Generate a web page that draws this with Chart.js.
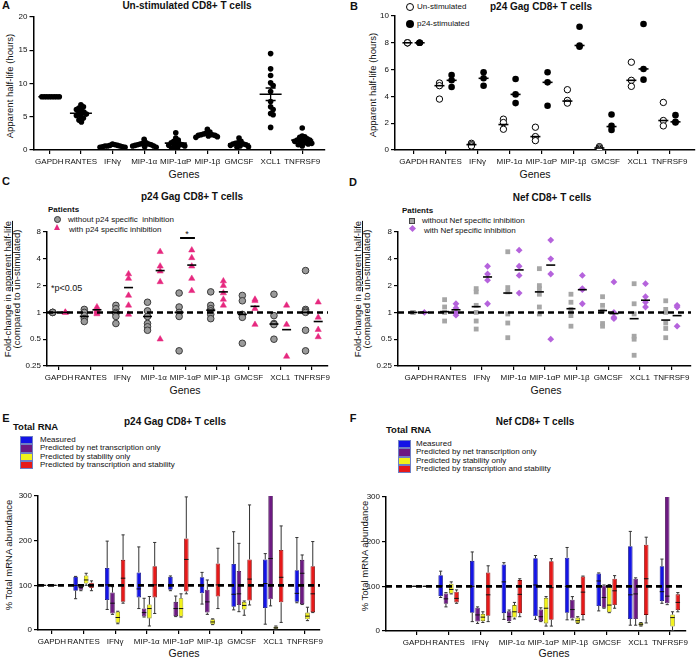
<!DOCTYPE html>
<html>
<head>
<meta charset="utf-8">
<title>mRNA half-life in CD8+ T cells</title>
<script src="https://cdn.jsdelivr.net/npm/chart.js@4.4.1/dist/chart.umd.min.js"></script>
<style>
html,body{margin:0;padding:0;background:#fff;overflow:hidden}
#fig{position:relative;width:696px;height:659px;font-family:"Liberation Sans",Arial,sans-serif;color:#111}
#fig canvas{position:absolute}
.t{position:absolute;white-space:nowrap;line-height:1;font-size:8px}
.c{transform:translate(-50%,-50%)}
.l{transform:translate(0,-50%)}
.v{transform:translate(-50%,-50%) rotate(-90deg);text-align:center}
.p{font-weight:bold;font-size:11px}
.h{font-weight:bold;font-size:10px}
.g{font-size:10.5px}
.sw{position:absolute;width:13px;height:8.4px;box-sizing:border-box;border:1px solid #6f7fc4}
.sym{position:absolute;box-sizing:border-box}
</style>
</head>
<body>
<div id="fig">
  <!-- panel letters -->
  <div class="t c p" style="left:6px;top:5px">A</div>
  <div class="t c p" style="left:354px;top:6px">B</div>
  <div class="t c p" style="left:6px;top:181px">C</div>
  <div class="t c p" style="left:353px;top:182px">D</div>
  <div class="t c p" style="left:6px;top:418px">E</div>
  <div class="t c p" style="left:353px;top:418px">F</div>

  <!-- titles -->
  <div class="t c h" style="left:187px;top:6px">Un-stimulated CD8+ T cells</div>
  <div class="t c h" style="left:541px;top:6.5px">p24 Gag CD8+ T cells</div>
  <div class="t c h" style="left:192px;top:197px">p24 Gag CD8+ T cells</div>
  <div class="t c h" style="left:552px;top:198px">Nef CD8+ T cells</div>
  <div class="t c h" style="left:175px;top:422px">p24 Gag CD8+ T cells</div>
  <div class="t c h" style="left:535px;top:422px">Nef CD8+ T cells</div>

  <!-- axis titles -->
  <div class="t v" style="left:10px;top:86px;font-size:9.5px">Apparent half-life (hours)</div>
  <div class="t v" style="left:373px;top:85px;font-size:9.5px">Apparent half-life (hours)</div>
  <div class="t v" style="left:12px;top:289px;font-size:9.5px;line-height:9px">Fold-change in <u>apparent half-life</u><br>(compared to un-stimulated)</div>
  <div class="t v" style="left:362px;top:289px;font-size:9.5px;line-height:9px">Fold-change in <u>apparent half-life</u><br>(compared to un-stimulated)</div>
  <div class="t v" style="left:9px;top:555px;font-size:9.5px">% Total mRNA abundance</div>
  <div class="t v" style="left:365px;top:556px;font-size:9.5px">% Total mRNA abundance</div>
  <div class="t c g" style="left:184px;top:174px">Genes</div>
  <div class="t c g" style="left:535px;top:174px">Genes</div>
  <div class="t c g" style="left:185px;top:390px">Genes</div>
  <div class="t c g" style="left:546px;top:390px">Genes</div>
  <div class="t c g" style="left:184px;top:653px">Genes</div>
  <div class="t c g" style="left:554px;top:653px">Genes</div>

  <!-- legend B -->
  <div class="sym" style="left:405.5px;top:3px;width:8px;height:8px;border:1px solid #000;border-radius:50%;background:#fff"></div>
  <div class="sym" style="left:405.5px;top:19.5px;width:8px;height:8px;border-radius:50%;background:#000"></div>
  <div class="t l" style="left:417px;top:7px">Un-stimulated</div>
  <div class="t l" style="left:417px;top:23.5px">p24-stimulated</div>

  <!-- legend C -->
  <div class="t l" style="left:48px;top:210px;font-weight:bold">Patients</div>
  <div class="sym" style="left:54px;top:216px;width:7px;height:7px;border:1px solid #333;border-radius:50%;background:#9a9a9a"></div>
  <div class="sym" style="left:54px;top:224px;width:0;height:0;border-left:3.5px solid transparent;border-right:3.5px solid transparent;border-bottom:6px solid #e6287f"></div>
  <div class="t l" style="left:68px;top:220px">without p24 specific&nbsp; inhibition</div>
  <div class="t l" style="left:69px;top:230px">with p24 specific inhibition</div>
  <div class="t c" style="left:187px;top:234px;font-size:9px">*</div>
  <div class="t l" style="left:51px;top:288px;font-size:9px">*p&lt;0.05</div>

  <!-- legend D -->
  <div class="t l" style="left:402px;top:211px;font-weight:bold">Patients</div>
  <div class="sym" style="left:409px;top:218px;width:6px;height:6px;border:1px solid #444;background:#a6a6a6"></div>
  <div class="sym" style="left:409.5px;top:225.5px;width:5px;height:5px;background:#b563dc;transform:rotate(45deg)"></div>
  <div class="t l" style="left:422px;top:221px">without Nef specific inhibition</div>
  <div class="t l" style="left:424px;top:231px">with Nef specific inhibition</div>

  <!-- legend E -->
  <div class="t l" style="left:13px;top:427px;font-weight:bold;font-size:9.5px">Total RNA</div>
  <div class="sw" style="left:20px;top:436px;background:#1414e6"></div>
  <div class="sw" style="left:20px;top:444.3px;background:#6d1a82"></div>
  <div class="sw" style="left:20px;top:452.6px;background:#f2f21a"></div>
  <div class="sw" style="left:20px;top:460.9px;background:#e61919"></div>
  <div class="t l" style="left:40px;top:440px">Measured</div>
  <div class="t l" style="left:40px;top:448.3px">Predicted by net transcription only</div>
  <div class="t l" style="left:40px;top:456.7px">Predicted by stability only</div>
  <div class="t l" style="left:40px;top:465px">Predicted by transcription and stability</div>

  <!-- legend F -->
  <div class="t l" style="left:386px;top:430px;font-weight:bold;font-size:9.5px">Total RNA</div>
  <div class="sw" style="left:398px;top:440px;background:#1414e6"></div>
  <div class="sw" style="left:398px;top:448.3px;background:#6d1a82"></div>
  <div class="sw" style="left:398px;top:456.6px;background:#f2f21a"></div>
  <div class="sw" style="left:398px;top:464.9px;background:#e61919"></div>
  <div class="t l" style="left:416px;top:444px">Measured</div>
  <div class="t l" style="left:416px;top:452.3px">Predicted by net transcription only</div>
  <div class="t l" style="left:416px;top:460.7px">Predicted by stability only</div>
  <div class="t l" style="left:416px;top:469px">Predicted by transcription and stability</div>
</div>

<script>
const FONT = '"Liberation Sans", Arial, sans-serif';
const genes = ['GAPDH', 'RANTES', 'IFNγ', 'MIP-1α', 'MIP-1αP', 'MIP-1β', 'GMCSF', 'XCL1', 'TNFRSF9'];
const logTicks = [0.25, 0.5, 1, 2, 4, 8];

// A - half-life in un-stimulated cells (hours), one list per gene
const halfLifeUnstim = [
  [8, 8, 8, 8, 8, 8, 8, 8],
  [6.8, 6.5, 6.3, 6.1, 5.9, 5.7, 5.5, 5.4, 5.2, 5.0, 4.8, 4.5, 4.2],
  [0.9, 0.8, 0.7, 0.7, 0.6, 0.6, 0.6, 0.5, 0.5, 0.4, 0.4],
  [1.6, 1.1, 1.0, 0.9, 0.9, 0.8, 0.8, 0.7, 0.6, 0.6, 0.5, 0.4],
  [2.6, 1.8, 1.5, 1.3, 1.1, 1.0, 0.9, 0.8, 0.7, 0.6, 0.5, 0.4, 0.3],
  [3.1, 2.7, 2.5, 2.4, 2.3, 2.3, 2.2, 2.2, 2.1, 2.0, 1.9],
  [1.8, 1.3, 1.1, 1.0, 0.9, 0.9, 0.8, 0.7, 0.6, 0.5, 0.4],
  [14.5, 12.2, 11.2, 10.1, 9.7, 8.8, 7.3, 6.5, 6.1, 5.5, 5.3, 3.4],
  [3.3, 2.1, 2.0, 1.9, 1.7, 1.5, 1.5, 1.4, 1.3, 1.2, 1.1, 1.0, 0.9, 0.8, 0.6]
];

// B - p24 Gag cells, un-stimulated vs p24-stimulated (hours)
const bUnstim = [[8, 8, 8], [5.0, 4.8, 3.8], [0.5, 0.4, 0.3], [2.3, 2.05, 1.55], [1.7, 1.0, 0.7],
  [4.5, 3.7, 3.5], [0.25, 0.15, 0.05], [6.55, 5.2, 4.75], [3.55, 2.2, 1.8]];
const bStim = [[8, 8, 8], [5.6, 5.2, 4.7], [5.8, 5.35, 4.8], [5.3, 4.15, 3.5], [5.8, 5.05, 3.3],
  [9.2, 7.8, 7.7], [2.65, 1.8, 1.5], [9.4, 6.05, 5.25], [2.6, 2.1, 2.05]];
const bUnstimMed = [8, 4.8, 0.4, 1.9, 1.0, 3.65, 0.15, 5.2, 2.2];
const bStimMed = [8, 5.2, 5.35, 4.15, 5.05, 7.8, 1.75, 6.05, 2.1];

// C - fold change, p24 Gag cells
const cWithout = [[1, 1, 1], [1.08, 1.0, 0.92, 0.85, 0.79], [1.2, 1.1, 1.0, 0.97, 0.9, 0.75],
  [1.3, 1.04, 0.9, 0.75, 0.69, 0.63], [1.65, 1.15, 1.0, 0.9, 0.37], [1.7, 1.2, 1.1, 1.04, 0.95, 0.85],
  [1.55, 1.35, 0.95, 0.88, 0.45], [1.6, 0.92, 0.75, 0.73, 0.5], [2.95, 1.08, 1.04, 1.0, 0.63, 0.37]];
const cWith = [[1, 1], [1.15, 1.08, 1.04, 1.0, 0.96], [2.7, 2.4, 1.55, 1.2, 0.95], [4.8, 3.3, 2.9, 2.2, 0.5],
  [5.0, 4.1, 3.3, 2.4, 1.75], [2.25, 2.0, 1.65, 1.4, 1.2], [1.4, 1.35, 1.1, 0.73], [1.2, 0.73, 0.32],
  [1.3, 0.88, 0.64, 0.53]];
const cWithoutMed = [1, 0.9, 1.0, 0.9, 1.0, 1.06, 0.95, 0.74, 1.0];
const cWithMed = [1, 1.07, 1.9, 2.95, 3.4, 1.7, 1.17, 0.64, 0.79];

// D - fold change, Nef cells
const dWithout = [[1, 1, 1], [1.39, 1.15, 1.0, 0.8], [1.85, 1.7, 1.2, 1.0, 0.8, 0.65],
  [4.8, 1.9, 1.7, 0.96, 0.76, 0.52], [3.1, 2.0, 1.85, 1.6, 1.15, 0.96], [1.6, 1.3, 1.08, 0.92, 0.7],
  [1.5, 1.2, 1.04, 0.75, 0.7], [2.1, 1.25, 0.96, 0.54, 0.5, 0.33], [1.35, 1.08, 1.0, 0.76, 0.66, 0.52]];
const dWith = [[1], [1.25, 1.12, 1.0, 0.93], [3.3, 2.7, 2.3, 1.25], [5.0, 3.3, 2.6, 1.65], [6.5, 4.0, 2.7, 0.5],
  [2.6, 1.85, 1.8, 1.25], [2.2, 1.0, 0.88, 0.85], [2.1, 1.5, 1.3, 1.15], [1.2, 1.15, 0.7]];
const dWithoutMed = [1, 1.02, 1.16, 1.65, 1.7, 1.1, 1.05, 0.85, 0.82];
const dWithMed = [1, 1.07, 2.5, 3.0, 3.4, 1.8, 0.97, 1.37, 0.92];

// E - % total mRNA, p24 Gag cells: [min, q1, median, q3, max]
const eMeasured = [[100, 100, 100, 100, 100], [70, 88, 100, 119, 120], [46, 67, 101, 139, 199], [48, 73, 92, 129, 186],
  [88, 90, 101, 119, 121], [58, 82, 101, 118, 129], [45, 52, 80, 148, 220], [13, 49, 104, 158, 171], [61, 63, 82, 134, 207]];
const ePredTx = [[100, 100, 100, 100, 100], [88, 90, 95, 100, 101], [35, 37, 60, 84, 97], [29, 30, 39, 48, 71],
  [30, 31, 48, 63, 76], [35, 39, 63, 90, 112], [41, 56, 81, 132, 194], [54, 69, 160, 330, 330], [57, 58, 127, 157, 168]];
const ePredStab = [[100, 100, 100, 100, 100], [100, 104, 112, 122, 127], [14, 16, 28, 41, 42], [9, 26, 48, 57, 75],
  [29, 30, 48, 71, 81], [12, 13, 18, 24, 25], [33, 46, 55, 63, 65], [2, 3, 5, 8, 9], [21, 24, 31, 39, 51]];
const ePredBoth = [[100, 100, 100, 100, 100], [88, 94, 100, 106, 110], [60, 63, 116, 157, 213], [37, 73, 101, 143, 196],
  [81, 86, 158, 205, 298], [48, 75, 101, 149, 183], [56, 66, 114, 158, 280], [17, 62, 118, 179, 233], [39, 40, 81, 143, 198]];

// F - % total mRNA, Nef cells
const fMeasured = [[100, 100, 100, 100, 100], [75, 78, 101, 125, 134], [21, 41, 100, 157, 177], [26, 40, 110, 149, 153],
  [26, 33, 103, 163, 169], [25, 41, 100, 164, 187], [45, 56, 112, 129, 130], [13, 27, 81, 190, 223], [62, 67, 88, 145, 161]];
const fPredTx = [[100, 100, 100, 100, 100], [54, 61, 72, 84, 86], [17, 21, 36, 52, 54], [19, 22, 32, 44, 47],
  [21, 22, 32, 48, 52], [25, 28, 48, 70, 77], [51, 52, 75, 102, 103], [13, 27, 83, 117, 119], [59, 62, 78, 330, 330]];
const fPredStab = [[100, 100, 100, 100, 100], [83, 84, 93, 106, 110], [19, 22, 31, 38, 43], [27, 30, 43, 58, 64],
  [11, 17, 51, 74, 77], [17, 18, 23, 30, 32], [41, 42, 58, 102, 104], [11, 12, 15, 18, 19], [1, 10, 30, 37, 43]];
const fPredBoth = [[100, 100, 100, 100, 100], [62, 64, 73, 88, 92], [21, 34, 81, 131, 146], [32, 40, 82, 114, 117],
  [11, 25, 97, 156, 162], [25, 36, 87, 122, 123], [51, 58, 90, 117, 124], [18, 36, 117, 193, 210], [43, 47, 64, 82, 86]];

const boxColors = ['#1414e6', '#6d1a82', '#f2f21a', '#e61919'];
const boxBorders = ['#0a0a7a', '#3a0a48', '#77770c', '#7a0a0a'];

// ---------- helpers ----------
const fig = document.getElementById('fig');

function makeCanvas(box) {
  const c = document.createElement('canvas');
  c.width = box.w;
  c.height = box.h;
  c.style.left = box.x + 'px';
  c.style.top = box.y + 'px';
  fig.appendChild(c);
  return c;
}

function xAxis(min, max, h) {
  return {
    type: 'linear', min: min, max: max, offset: false,
    afterBuildTicks: s => { s.ticks = genes.map((g, i) => ({value: i})); },
    afterFit: s => { s.height = h; },
    ticks: {autoSkip: false, maxRotation: 0, minRotation: 0, padding: 3, color: '#111',
      font: {size: 8, family: FONT}, callback: v => genes[v]},
    grid: {drawOnChartArea: false, offset: false, color: '#000', lineWidth: 1.2, tickLength: 4},
    border: {color: '#000', width: 1.5}
  };
}

function yAxis(w, extra) {
  return Object.assign({
    afterFit: s => { s.width = w; },
    grid: {drawOnChartArea: false, color: '#000', lineWidth: 1.2, tickLength: 4},
    border: {color: '#000', width: 1.5}
  }, extra);
}

function opts(box, area, xs, ys) {
  return {
    responsive: false, animation: false, events: [],
    layout: {padding: {left: 0, top: area.t - box.y, right: box.x + box.w - area.r, bottom: 0}},
    plugins: {legend: {display: false}, tooltip: {enabled: false}},
    scales: {x: xs, y: ys}
  };
}

// simple beeswarm: horizontal pixel offsets, dots may overlap a bit sideways
function swarm(vals, pxPerY, gap, squeeze) {
  const idx = vals.map((v, i) => i).sort((a, b) => vals[b] - vals[a]);
  const placed = [], off = [];
  idx.forEach(i => {
    const y = vals[i] * pxPerY;
    for (let k = 0; k < 400; k++) {
      const c = (k % 2 ? 1 : -1) * Math.ceil(k / 2) * 0.5;
      if (placed.every(p => ((p.x - c) * squeeze) ** 2 + (p.y - y) ** 2 >= gap * gap)) {
        placed.push({x: c, y: y});
        off[i] = c;
        break;
      }
    }
  });
  return off;
}

function refLine(value, width, dash) {
  return {
    id: 'refLine',
    afterDatasetsDraw(chart) {
      const {ctx, chartArea: a, scales: {y}} = chart;
      const py = y.getPixelForValue(value);
      ctx.save();
      ctx.setLineDash(dash);
      ctx.lineWidth = width;
      ctx.strokeStyle = '#000';
      ctx.beginPath();
      ctx.moveTo(a.left, py);
      ctx.lineTo(a.right, py);
      ctx.stroke();
      ctx.restore();
    }
  };
}

function pointsOf(lists, shift) {
  const out = [];
  lists.forEach((vals, i) => vals.forEach(v => out.push({x: i + shift, y: v})));
  return out;
}

function medLine(meds, shift, r) {
  return {
    data: meds.map((m, i) => ({x: i + shift, y: m})),
    pointStyle: 'line', pointRadius: r, pointBorderColor: '#000', pointBorderWidth: 1.6
  };
}

// ---------- A ----------
(function () {
  const box = {x: 0, y: 0, w: 348, h: 172}, area = {l: 33.5, t: 17, r: 325, b: 150};
  const pts = [], means = [], sems = [];
  halfLifeUnstim.forEach((vals, i) => {
    const off = swarm(vals, 133 / 20, 5, 2.1);
    vals.forEach((v, j) => pts.push({x: i + off[j] / 31.6, y: v}));
    const m = vals.reduce((s, v) => s + v, 0) / vals.length;
    const sd = Math.sqrt(vals.reduce((s, v) => s + (v - m) ** 2, 0) / (vals.length - 1));
    means.push({x: i, y: m});
    sems.push(sd / Math.sqrt(vals.length));
  });
  const errBars = {
    id: 'errBars',
    afterDatasetsDraw(chart) {
      const {ctx, scales: {x, y}} = chart;
      ctx.save();
      ctx.strokeStyle = '#000';
      ctx.lineWidth = 1.3;
      means.forEach((m, i) => {
        const px = x.getPixelForValue(m.x);
        const hi = y.getPixelForValue(m.y + sems[i]), lo = y.getPixelForValue(m.y - sems[i]);
        ctx.beginPath();
        ctx.moveTo(px, hi); ctx.lineTo(px, lo);
        ctx.moveTo(px - 5, hi); ctx.lineTo(px + 5, hi);
        ctx.moveTo(px - 5, lo); ctx.lineTo(px + 5, lo);
        ctx.stroke();
      });
      ctx.restore();
    }
  };
  new Chart(makeCanvas(box), {
    type: 'scatter',
    data: {datasets: [
      {data: means, pointStyle: 'line', pointRadius: 11, pointBorderColor: '#000', pointBorderWidth: 1.6},
      {data: pts, pointRadius: 2.8, pointBackgroundColor: '#000', pointBorderWidth: 0}
    ]},
    options: opts(box, area, xAxis(-0.5, 8.72, box.y + box.h - area.b),
      yAxis(area.l - box.x, {min: 0, max: 20, ticks: {stepSize: 5, padding: 2, color: '#111', font: {size: 8, family: FONT}}})),
    plugins: [errBars]
  });
})();

// ---------- B ----------
(function () {
  const box = {x: 348, y: 0, w: 360, h: 172}, area = {l: 395, t: 16, r: 695, b: 150};
  new Chart(makeCanvas(box), {
    type: 'scatter',
    data: {datasets: [
      medLine(bUnstimMed, -0.19, 5),
      medLine(bStimMed, 0.19, 5),
      {data: pointsOf(bUnstim, -0.19), pointRadius: 3.2, pointBackgroundColor: '#fff', pointBorderColor: '#000', pointBorderWidth: 1},
      {data: pointsOf(bStim, 0.19), pointRadius: 3.3, pointBackgroundColor: '#000', pointBorderWidth: 0}
    ]},
    options: opts(box, area, xAxis(-0.58, 8.8, box.y + box.h - area.b),
      yAxis(area.l - box.x, {min: 0, max: 10, ticks: {stepSize: 2, padding: 2, color: '#111', font: {size: 8, family: FONT}}}))
  });
})();

// ---------- C / D ----------
function foldChart(box, area, xmin, xmax, without, withArr, withoutMed, withMed, sty, extra) {
  const plugins = [refLine(1, 2.5, [6, 4])];
  if (extra) plugins.push(extra);
  new Chart(makeCanvas(box), {
    type: 'scatter',
    data: {datasets: [
      medLine(withoutMed, -sty.shift, 4.5),
      medLine(withMed, sty.shift, 4.5),
      Object.assign({data: pointsOf(without, -sty.shift)}, sty.a),
      Object.assign({data: pointsOf(withArr, sty.shift)}, sty.b)
    ]},
    options: opts(box, area, xAxis(xmin, xmax, box.y + box.h - area.b),
      yAxis(area.l - box.x, {
        type: 'logarithmic', min: 0.25, max: 8,
        afterBuildTicks: s => { s.ticks = logTicks.map(v => ({value: v})); },
        ticks: {padding: 2, color: '#111', font: {size: 8, family: FONT}, callback: v => String(v)}
      })),
    plugins: plugins
  });
}

const sigBar = {
  id: 'sigBar',
  afterDatasetsDraw(chart) {
    const {ctx, scales: {x, y}} = chart;
    const py = y.getPixelForValue(6.85);
    ctx.save();
    ctx.strokeStyle = '#000';
    ctx.lineWidth = 2;
    ctx.beginPath();
    ctx.moveTo(x.getPixelForValue(3.83), py);
    ctx.lineTo(x.getPixelForValue(4.3), py);
    ctx.stroke();
    ctx.restore();
  }
};

foldChart({x: 0, y: 175, w: 348, h: 215}, {l: 47, t: 232, r: 328, b: 366}, -0.38, 8.51,
  cWithout, cWith, cWithoutMed, cWithMed, {
    shift: 0.2,
    a: {pointRadius: 3.3, pointBackgroundColor: '#9a9a9a', pointBorderColor: '#3a3a3a', pointBorderWidth: 1},
    b: {pointStyle: 'triangle', pointRadius: 3.6, pointBackgroundColor: '#e6287f', pointBorderColor: '#e6287f', pointBorderWidth: 0.5}
  }, sigBar);

foldChart({x: 348, y: 175, w: 360, h: 215}, {l: 398, t: 232, r: 691, b: 366}, -0.655, 8.62,
  dWithout, dWith, dWithoutMed, dWithMed, {
    shift: 0.18,
    a: {pointStyle: 'rect', pointRadius: 3.4, pointBackgroundColor: '#a6a6a6', pointBorderColor: '#a6a6a6', pointBorderWidth: 0},
    b: {pointStyle: 'rectRot', pointRadius: 3.4, pointBackgroundColor: '#b563dc', pointBorderColor: '#b563dc', pointBorderWidth: 0}
  });

// ---------- E / F ----------
function boxChart(box, area, xmin, xmax, series) {
  const whiskers = {
    id: 'whiskers',
    afterDatasetsDraw(chart) {
      const {ctx, chartArea: a, scales: {y}} = chart;
      ctx.save();
      ctx.beginPath();
      ctx.rect(a.left, a.top, a.width, a.height);
      ctx.clip();
      series.forEach((stats, d) => {
        chart.getDatasetMeta(d).data.forEach((el, i) => {
          const [mn, q1, med, q3, mx] = stats[i];
          const cx = el.x, hw = el.width / 2;
          ctx.strokeStyle = '#333';
          ctx.lineWidth = 1;
          ctx.beginPath();
          ctx.moveTo(cx, y.getPixelForValue(q3)); ctx.lineTo(cx, y.getPixelForValue(mx));
          ctx.moveTo(cx, y.getPixelForValue(q1)); ctx.lineTo(cx, y.getPixelForValue(mn));
          ctx.moveTo(cx - hw * 0.7, y.getPixelForValue(mx)); ctx.lineTo(cx + hw * 0.7, y.getPixelForValue(mx));
          ctx.moveTo(cx - hw * 0.7, y.getPixelForValue(mn)); ctx.lineTo(cx + hw * 0.7, y.getPixelForValue(mn));
          ctx.stroke();
          ctx.strokeStyle = '#111';
          ctx.lineWidth = 1;
          ctx.beginPath();
          ctx.moveTo(cx - hw, y.getPixelForValue(med)); ctx.lineTo(cx + hw, y.getPixelForValue(med));
          ctx.stroke();
        });
      });
      ctx.restore();
    }
  };
  new Chart(makeCanvas(box), {
    type: 'bar',
    data: {datasets: series.map((stats, d) => ({
      data: stats.map((s, i) => ({x: i, y: [s[1], s[3]]})),
      backgroundColor: boxColors[d], borderColor: boxBorders[d], borderWidth: 0.8, borderSkipped: false,
      categoryPercentage: 0.67, barPercentage: 0.85
    }))},
    options: opts(box, area, xAxis(xmin, xmax, box.y + box.h - area.b),
      yAxis(area.l - box.x, {min: 0, max: 300, ticks: {stepSize: 100, padding: 2, color: '#111', font: {size: 8, family: FONT}}})),
    plugins: [whiskers, refLine(100, 2.6, [6, 4])]
  });
}

boxChart({x: 0, y: 415, w: 348, h: 244}, {l: 38, t: 496, r: 320, b: 630}, -0.44, 8.48,
  [eMeasured, ePredTx, ePredStab, ePredBoth]);
boxChart({x: 348, y: 415, w: 360, h: 244}, {l: 386, t: 497, r: 686, b: 631}, -0.98, 8.51,
  [fMeasured, fPredTx, fPredStab, fPredBoth]);
</script>
</body>
</html>
